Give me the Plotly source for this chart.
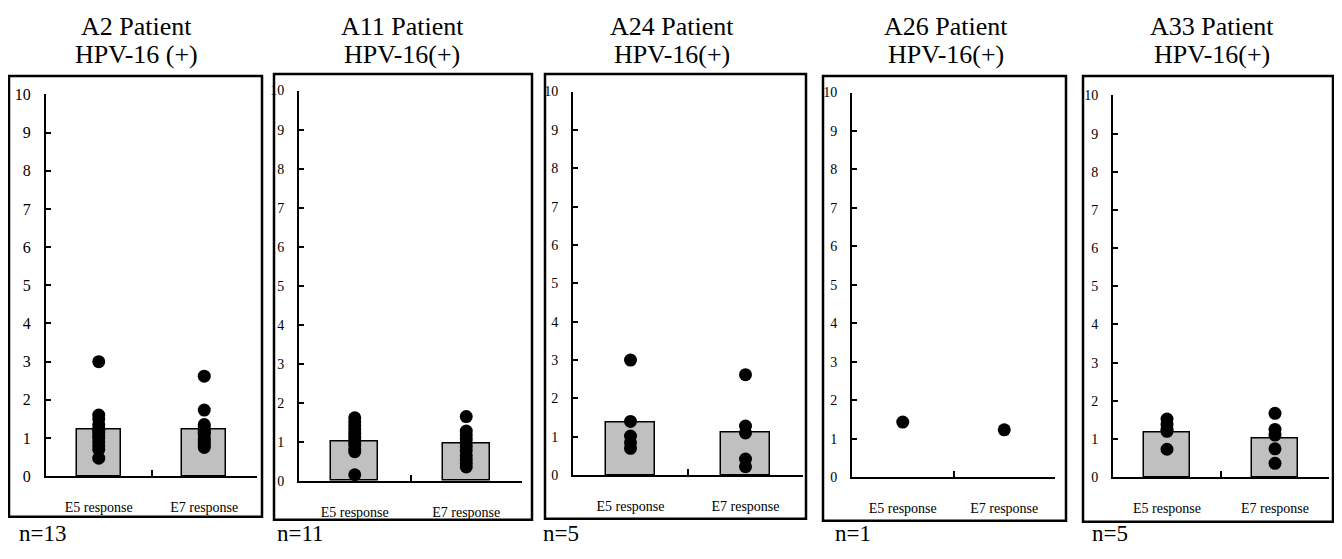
import plotly.graph_objects as go

# Page offset: the figure sits inside the page body (8px margin), so it is sized
# to fit exactly in the 1342x559 window and positions are given in window pixels.
OFF = 8
W, H = 1342 - 2 * OFF, 559 - 2 * OFF

categories = ["E5 response", "E7 response"]
titles_line1 = ["A2 Patient", "A11 Patient", "A24 Patient", "A26 Patient", "A33 Patient"]
titles_line2 = ["HPV-16 (+)", "HPV-16(+)", "HPV-16(+)", "HPV-16(+)", "HPV-16(+)"]
n_labels = ["n=13", "n=11", "n=5", "n=1", "n=5"]
y_ticks = list(range(0, 11))

# bar heights (mean responses) per panel; None = no bar drawn
a2_bars = [1.23, 1.23]
a11_bars = [1.02, 0.97]
a24_bars = [1.36, 1.10]
a26_bars = [None, None]
a33_bars = [1.17, 1.02]

# individual responses
a2_e5 = [3.0, 1.6, 1.5, 1.35, 1.25, 1.2, 1.15, 1.05, 1.0, 0.9, 0.8, 0.7, 0.47]
a2_e7 = [2.62, 1.73, 1.35, 1.3, 1.2, 1.15, 1.1, 1.0, 0.95, 0.9, 0.85, 0.8, 0.75]
a11_e5 = [1.62, 1.52, 1.42, 1.32, 1.22, 1.12, 1.02, 0.92, 0.82, 0.75, 0.16]
a11_e7 = [1.65, 1.28, 1.18, 1.08, 0.98, 0.88, 0.78, 0.65, 0.55, 0.45, 0.36]
a24_e5 = [3.0, 1.4, 1.02, 0.85, 0.7]
a24_e7 = [2.62, 1.28, 1.1, 0.42, 0.22]
a26_e5 = [1.43]
a26_e7 = [1.23]
a33_e5 = [1.52, 1.38, 1.25, 1.2, 0.73]
a33_e7 = [1.67, 1.25, 1.1, 0.74, 0.36]

bars = [a2_bars, a11_bars, a24_bars, a26_bars, a33_bars]
e5 = [a2_e5, a11_e5, a24_e5, a26_e5, a33_e5]
e7 = [a2_e7, a11_e7, a24_e7, a26_e7, a33_e7]

# layout geometry (window pixels)
plot_x = [(46, 257), (299, 522), (573, 803), (852, 1055), (1113, 1329)]
plot_y = [(89, 483), (85, 488), (86, 482), (87, 484), (90, 484)]  # (top=10, bottom=0)
boxes = [(9, 70, 262, 525), (274, 68, 532, 528), (545, 68, 806, 527),
         (823, 70, 1066, 529), (1083, 70, 1333, 530)]
title_cx = [136, 402, 672, 946, 1212]
n_x = [17, 275, 541, 833, 1090]
tick_font = [16, 14, 14, 14, 14]

FONT = "Liberation Serif, serif"

def px(x):
    return (x - OFF) / W

def py(y):
    return 1 - (y - OFF) / H

fig = go.Figure()
shapes = []
annotations = []

for i in range(5):
    sfx = "" if i == 0 else str(i + 1)
    xa, ya = "x" + sfx, "y" + sfx
    bvals = bars[i]
    if any(v is not None for v in bvals):
        fig.add_trace(go.Bar(
            x=categories, y=bvals, width=0.42,
            marker=dict(color="#c0c0c0", line=dict(color="black", width=1.5)),
            xaxis=xa, yaxis=ya, showlegend=False))
    fig.add_trace(go.Scatter(
        x=[categories[0]] * len(e5[i]) + [categories[1]] * len(e7[i]),
        y=e5[i] + e7[i], mode="markers",
        marker=dict(color="black", size=13),
        xaxis=xa, yaxis=ya, showlegend=False, cliponaxis=False))

    x0, x1 = plot_x[i]
    ytop, ybot = plot_y[i]
    fig.layout["xaxis" + sfx] = dict(
        domain=[px(x0), px(x1)], anchor=ya, type="category",
        categoryorder="array", categoryarray=categories,
        range=[-0.5, 1.5], showline=True, linecolor="black", linewidth=2,
        ticks="inside", tickson="boundaries", ticklen=6, tickwidth=2, tickcolor="black",
        showgrid=False, zeroline=False, fixedrange=True,
        tickfont=dict(family=FONT, size=14, color="black"), ticklabelstandoff=17)
    fig.layout["yaxis" + sfx] = dict(
        domain=[py(ybot), py(ytop)], anchor=xa, range=[0, 10],
        tickmode="array", tickvals=y_ticks, ticktext=[str(t) for t in y_ticks],
        showline=True, linecolor="black", linewidth=2,
        ticks="inside", ticklen=5, tickwidth=2, tickcolor="black",
        showgrid=False, zeroline=False, fixedrange=True,
        tickfont=dict(family=FONT, size=tick_font[i], color="black"), ticklabelstandoff=10)

    bx0, by0, bx1, by1 = boxes[i]
    shapes.append(dict(type="rect", xref="paper", yref="paper",
                       x0=px(bx0), x1=px(bx1), y0=py(by1), y1=py(by0),
                       line=dict(color="black", width=2.5), fillcolor="rgba(0,0,0,0)"))
    annotations.append(dict(text=titles_line1[i], x=px(title_cx[i]), y=py(19),
                            xref="paper", yref="paper", xanchor="center", yanchor="middle",
                            showarrow=False, font=dict(family=FONT, size=26, color="black")))
    annotations.append(dict(text=titles_line2[i], x=px(title_cx[i]), y=py(48),
                            xref="paper", yref="paper", xanchor="center", yanchor="middle",
                            showarrow=False, font=dict(family=FONT, size=26, color="black")))
    annotations.append(dict(text=n_labels[i], x=px(n_x[i]), y=py(542),
                            xref="paper", yref="paper", xanchor="left", yanchor="middle",
                            showarrow=False, font=dict(family=FONT, size=23, color="black")))

fig.update_layout(
    width=W, height=H, margin=dict(l=0, r=0, t=0, b=0),
    paper_bgcolor="white", plot_bgcolor="white",
    shapes=shapes, annotations=annotations, bargap=0, showlegend=False)

fig.write_html("out.html", config={"displayModeBar": False})
